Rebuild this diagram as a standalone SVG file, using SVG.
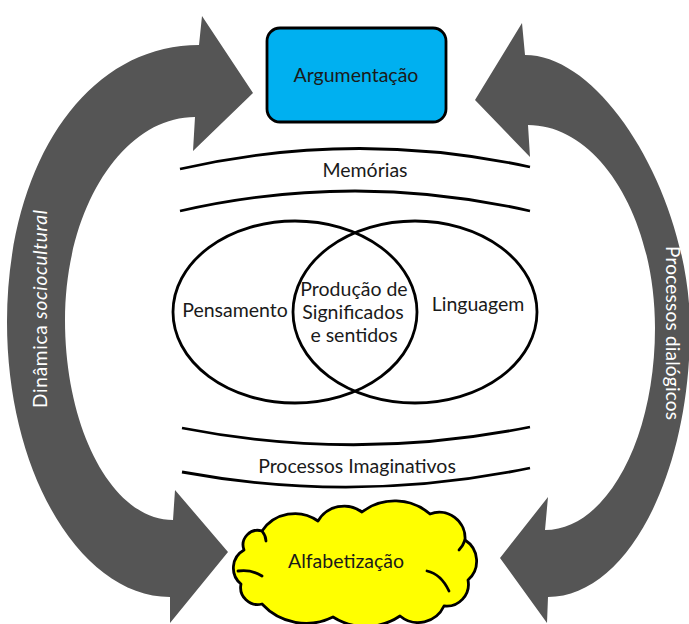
<svg xmlns="http://www.w3.org/2000/svg" width="689" height="624" viewBox="0 0 689 624">
<style>
.t{font-family:Lato,"Liberation Sans",sans-serif;font-size:19.5px;fill:#1a1a1a}
.w{font-family:Lato,"Liberation Sans",sans-serif;font-size:19px;fill:#ffffff}
.ln{fill:none;stroke:#000;stroke-width:2.8}
.arr{fill:#555555}
.cl{fill:none;stroke:#000;stroke-width:2.8;stroke-linecap:round}
</style>
<rect width="689" height="624" fill="#ffffff"/>
<g id="connectors">
<path id="arrow-left" class="arr" d="M202,16 L253,93 L193,151 L195,117 C123,117 65,208 65,320 C65,430 113,520 173,520 L175,490 L228,552 L170,623 L170,597 C82,597 7,475 7,322 C7,165 85,45 199,45 Z"/>
<path id="arrow-right" class="arr" d="M522,23 L475,100 L530,157 L528,125 C598,125 655,216 655,328 C655,440 606,530 545,530 L548,497 L500,558 L547,623 L548,597 C626,597 690,477 690,328 C690,200 605,55 525,55 Z"/>
<text class="w" transform="translate(47,309) rotate(-90)" text-anchor="middle" textLength="198" lengthAdjust="spacing">Dinâmica <tspan font-style="italic">sociocultural</tspan></text>
<text class="w" transform="translate(666,333) rotate(90)" text-anchor="middle" textLength="174" lengthAdjust="spacing">Processos dialógicos</text>
</g>
<g id="argumentacao">
<rect x="267" y="28" width="179" height="94" rx="13" fill="#00b0f0" stroke="#000" stroke-width="2.8"/>
<text class="t" x="356" y="82" text-anchor="middle">Argumentação</text>
</g>
<g id="memorias">
<path class="ln" d="M180,169 Q355,129 530,167"/>
<path class="ln" d="M180,211 Q355,171 530,211"/>
<text class="t" x="365" y="177" text-anchor="middle">Memórias</text>
</g>
<g id="venn">
<ellipse class="ln" cx="295" cy="312" rx="122" ry="91"/>
<ellipse class="ln" cx="415" cy="312" rx="122" ry="91"/>
<text class="t" x="235" y="317" text-anchor="middle">Pensamento</text>
<text class="t" x="354" y="296" text-anchor="middle">Produção de</text>
<text class="t" x="353" y="319" text-anchor="middle">Significados</text>
<text class="t" x="354" y="342" text-anchor="middle">e sentidos</text>
<text class="t" x="478" y="311" text-anchor="middle">Linguagem</text>
</g>
<g id="imaginativos">
<path class="ln" d="M182,428 Q356,462 530,427"/>
<path class="ln" d="M182,472 Q356,504 530,468"/>
<text class="t" x="357" y="473" text-anchor="middle">Processos Imaginativos</text>
</g>
<g id="alfabetizacao">
<path fill="#ffff00" stroke="#000" stroke-width="2.8" stroke-linejoin="round" d="M241,584 A20.6,20.6 0 0 1 244,550 A14.6,14.6 0 0 1 262,531 A39.8,39.8 0 0 1 318,521 A30.3,30.3 0 0 1 362,512 A54,54 0 0 1 430,514 A25.8,25.8 0 0 1 465,540 A25,25 0 0 1 468,580 A21.9,21.9 0 0 1 444,606 A28.5,28.5 0 0 1 400,616 A61,61 0 0 1 333,617 A60,60 0 0 1 262,604 A17.1,17.1 0 0 1 241,584 Z"/>
<path class="cl" d="M238,571 Q251,569 262,576"/>
<path class="cl" d="M427,571 Q441,574 449,591"/>
<path class="cl" d="M262,531 Q266,536 266,541"/>
<path class="cl" d="M465,540 Q463,546 459,550"/>
<text class="t" x="346" y="568" text-anchor="middle">Alfabetização</text>
</g>
</svg>
